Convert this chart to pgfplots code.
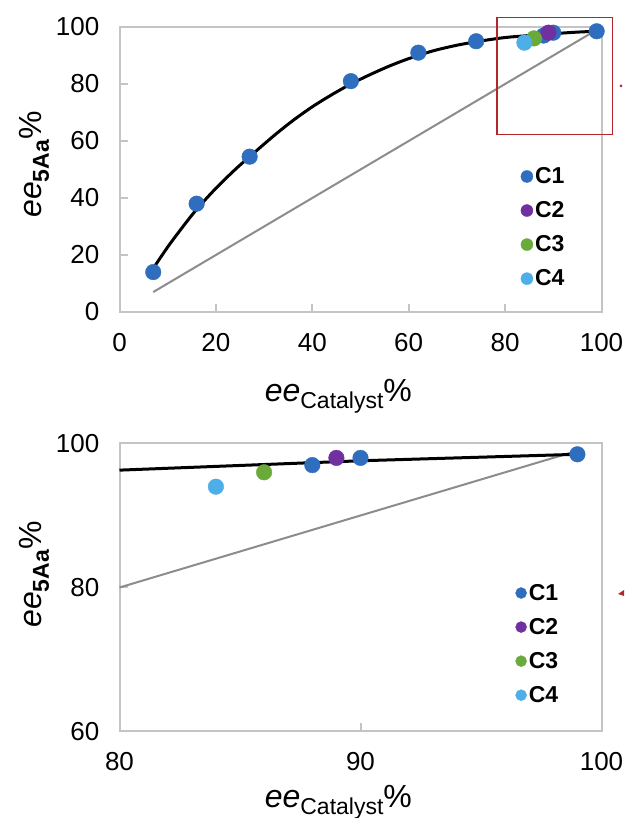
\documentclass[border=0pt]{standalone}
\usepackage{fontspec}
\setmainfont{Liberation Sans}
\usepackage{pgfplots}
\pgfplotsset{compat=1.18}
\definecolor{cA}{HTML}{2F6DBF}
\definecolor{cB}{HTML}{7030A0}
\definecolor{cC}{HTML}{6AAA3A}
\definecolor{cD}{HTML}{4DAEE8}
\definecolor{frame}{HTML}{C4C4C4}
\definecolor{diag}{HTML}{8C8C8C}
\definecolor{boxred}{HTML}{B3262B}

\newcommand{\lab}[1]{\fontsize{32}{36}\selectfont\textit{ee}\raisebox{-7pt}{\fontsize{23}{26}\selectfont #1}\%}

\pgfplotsset{
  eeplot/.style={
    scale only axis, width=482pt,
    axis line style={frame, line width=2pt},
    tick style={frame, line width=2pt},
    tick align=inside, major tick length=8pt,
    xtick pos=bottom, ytick pos=left,
    ticklabel style={font=\fontsize{26}{29}\selectfont},
    /pgf/number format/assume math mode=true,
    yticklabel style={inner sep=0pt, xshift=-20pt},
    xticklabel style={inner sep=0pt, yshift=-21pt},
    clip=false,
    legend cell align=left,
    legend style={draw=none, fill=none, font=\fontsize{23}{26}\selectfont\bfseries,
      row sep=12.5pt, inner sep=0pt},
  },
  datapts/.style={only marks, mark=*, mark size=7.8pt, mark options={draw=none}},
}

\begin{document}
\begin{tikzpicture}[x=1pt,y=1pt]
\useasboundingbox (0pt,0pt) rectangle (624pt,818pt);

% upper chart, full range
\begin{axis}[eeplot, at={(119.5pt,506pt)}, anchor=south west, height=285pt,
  xmin=0, xmax=100, ymin=0, ymax=100,
  xtick={0,20,40,60,80,100}, ytick={0,20,40,60,80,100},
  xlabel={\lab{Catalyst}},
  xlabel style={at={(axis description cs:0.301,0)}, anchor=base west, yshift=-90pt, inner sep=0pt},
  ylabel={\lab{\bfseries 5Aa}},
  ylabel style={at={(axis description cs:-0.161,0.33)}, anchor=base west, inner sep=0pt},
  legend style={at={(axis cs:83.2,51.4)}, anchor=north west},
  legend image code/.code={\fill[#1] (-1.2pt,0pt) circle (6pt);},
]
\addplot[datapts, cA] coordinates {(7,14) (16,38) (27,54.5) (48,81) (62,91) (74,95) (88,97) (90,98) (99,98.5)};
\addplot[datapts, cB] coordinates {(89,98)};
\addplot[datapts, cC] coordinates {(86,96)};
\addplot[datapts, cD] coordinates {(84,94.5)};
\addplot[forget plot, diag, line width=2pt] coordinates {(7,7) (99,99)};
\addplot[forget plot, black, line width=3pt, smooth] coordinates {
 (7,15.3) (10,22.8) (13,29.6) (16,36) (20,43.4) (24,50) (27,54.5) (32,61.8)
 (36,67.2) (40,72) (44,76.2) (48,80) (52,83.3) (56,86.3) (60,88.9) (65,91.6)
 (70,93.6) (75,95.1) (80,96.3) (85,97) (90,97.65) (95,98.2) (99,98.5)};
\legend{C1,C2,C3,C4}
\draw[boxred, line width=1.8pt] (axis cs:78.4,103.3) rectangle (axis cs:102.3,62.3);
\end{axis}

% lower chart, zoomed region
\begin{axis}[eeplot, at={(119.5pt,86.5pt)}, anchor=south west, height=288pt,
  xmin=80, xmax=100, ymin=60, ymax=100,
  xtick={80,90,100}, ytick={60,80,100},
  xlabel={\lab{Catalyst}},
  xlabel style={at={(axis description cs:0.301,0)}, anchor=base west, yshift=-76pt, inner sep=0pt},
  ylabel={\lab{\bfseries 5Aa}},
  ylabel style={at={(axis description cs:-0.161,0.36)}, anchor=base west, inner sep=0pt},
  legend style={at={(axis cs:96.42,80.76)}, anchor=north west},
  legend image code/.code={\fill[#1] (-4.2pt,0pt) circle (5.5pt);},
]
\addplot[datapts, cA] coordinates {(88,97) (90,98) (99,98.5)};
\addplot[datapts, cB] coordinates {(89,98)};
\addplot[datapts, cC] coordinates {(86,96)};
\addplot[datapts, cD] coordinates {(84,94)};
\addplot[forget plot, diag, line width=2pt] coordinates {(80,80) (99,99)};
\addplot[forget plot, black, line width=3pt] coordinates {(80,96.3) (90,97.6) (99,98.5)};
\legend{C1,C2,C3,C4}
\end{axis}

% cut-off red arrow tips at the right edge
\fill[boxred] (621pt,732pt) circle (1.5pt);
\fill[boxred] (618pt,224pt) -- (624pt,228pt) -- (624pt,222pt) -- cycle;
\end{tikzpicture}
\end{document}
